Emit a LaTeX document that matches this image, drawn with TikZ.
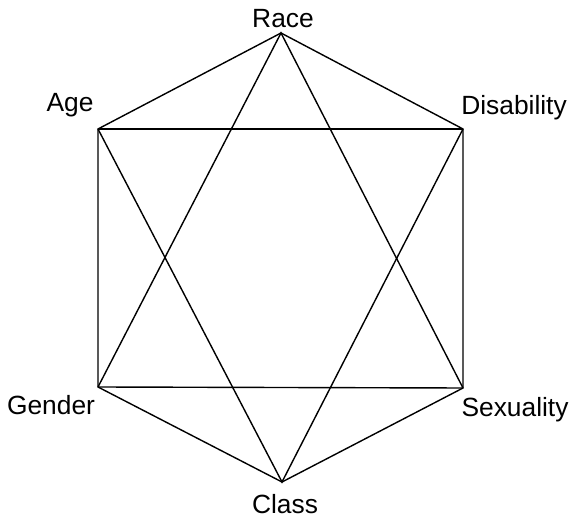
\documentclass[tikz,border=0pt]{standalone}
\usepackage{fontspec}
\setmainfont{Liberation Sans}
\usetikzlibrary{positioning}
\tikzset{
  edge/.style={line width=0.8pt, color=black},
  lbl/.style={font=\fontsize{15}{18}\selectfont, inner sep=0pt, anchor=base}
}
\begin{document}
\begin{tikzpicture}
  \useasboundingbox (0,0) rectangle (11.5,10.4);
  % corners of the hexagon
  \coordinate (race) at (5.62,9.74);
  \coordinate (dis) at (9.26,7.82);
  \coordinate (sex) at (9.26,2.64);
  \coordinate (cls) at (5.64,0.76);
  \coordinate (gen) at (1.96,2.66);
  \coordinate (age) at (1.96,7.82);

  \node[lbl] (racetxt) at (5.66,9.84) {Race};
  \node[lbl] (agetxt) at (1.40,8.16) {Age};
  \node[lbl] (distxt) at (10.28,8.10) {Disability};
  \node[lbl] (gentxt) at (1.02,2.10) {Gender};
  \node[lbl] (sextxt) at (10.30,2.06) {Sexuality};
  \node[lbl] (clstxt) at (5.70,0.14) {Class};

  % outline
  \draw[edge] (race) -- (dis) -- (sex) -- (cls) -- (gen) -- (age) -- cycle;
  \draw[edge] (age) -- (dis);
  \draw[edge] (gen) -- (sex);
  % the two triangles
  \draw[edge] (gen) -- (race) -- (sex);
  \draw[edge] (age) -- (cls) -- (dis);
\end{tikzpicture}
\end{document}
